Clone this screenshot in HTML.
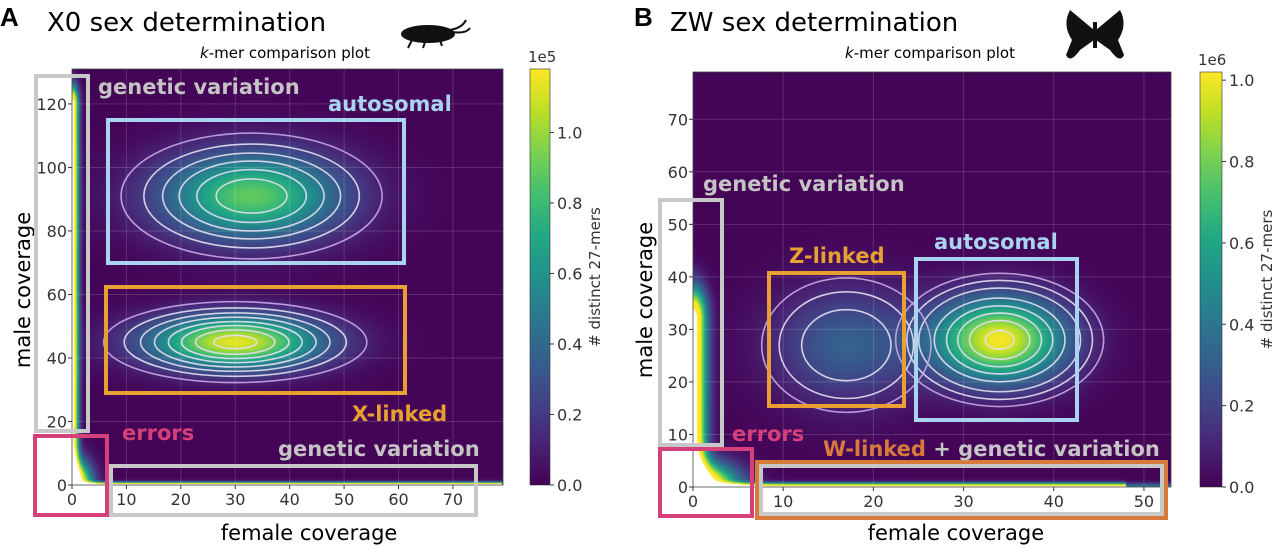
<!DOCTYPE html>
<html><head><meta charset="utf-8"><style>
html,body{margin:0;padding:0;background:#fff;width:1280px;height:548px;overflow:hidden;font-family:"Liberation Sans",sans-serif}
#root{position:relative;width:1280px;height:548px}
canvas{position:absolute}
svg{position:absolute;left:0;top:0}
</style></head><body>
<div id="root">
<canvas id="cA" style="left:72px;top:69px" width="431" height="416"></canvas>
<canvas id="cB" style="left:693px;top:72px" width="478" height="415"></canvas>
<svg id="s" width="1280" height="548">
<defs>
<linearGradient id="vir" x1="0" y1="1" x2="0" y2="0">
<stop offset="0" stop-color="#440154"/><stop offset="0.1" stop-color="#482475"/><stop offset="0.2" stop-color="#414487"/><stop offset="0.3" stop-color="#355f8d"/><stop offset="0.4" stop-color="#2a788e"/><stop offset="0.5" stop-color="#21918c"/><stop offset="0.6" stop-color="#22a884"/><stop offset="0.7" stop-color="#44bf70"/><stop offset="0.8" stop-color="#7ad151"/><stop offset="0.9" stop-color="#bddf26"/><stop offset="1" stop-color="#fde725"/>
</linearGradient>
</defs>
<g id="static">
<text x="0" y="26" font-size="26" font-weight="bold">A</text>
<text x="47" y="31" font-size="26" font-family="DejaVu Sans, sans-serif">X0 sex determination</text>
<text x="200" y="58" font-size="15" font-family="DejaVu Sans, sans-serif"><tspan font-style="italic">k</tspan>-mer comparison plot</text>
<g fill="#111">
<ellipse cx="428" cy="34" rx="27" ry="9"/><path d="M450 30 Q462 28 466 20" stroke="#111" stroke-width="2" fill="none"/><path d="M452 32 Q466 34 470 28" stroke="#111" stroke-width="2" fill="none"/><path d="M412 40 l-4 8 M425 42 l-2 6 M440 40 l2 6" stroke="#111" stroke-width="2"/>
</g>
<text x="634" y="26" font-size="26" font-weight="bold">B</text>
<text x="670" y="31" font-size="26" font-family="DejaVu Sans, sans-serif">ZW sex determination</text>
<text x="845" y="58" font-size="15" font-family="DejaVu Sans, sans-serif"><tspan font-style="italic">k</tspan>-mer comparison plot</text>
<g fill="#111">
<path d="M1094 30 L1070 10 Q1062 25 1072 40 L1066 55 Q1070 64 1080 50 L1094 40 Z"/>
<path d="M1096 30 L1120 10 Q1128 25 1118 40 L1124 55 Q1120 64 1110 50 L1096 40 Z"/>
<rect x="1093" y="22" width="4" height="26"/>
</g>
</g>
<g id="dyn"></g>
</svg>
</div>
<script>
// ---------- Panel A data (X0) ----------
const aBlobCx=[33,30];
const aBlobCy=[91,45];
const aBlobPeak=[0.88,1.12];
const aBlobSx=[11.5,11];
const aBlobSy=[9.5,5.8];
const aLevels=[0.1,0.2,0.32,0.45,0.6,0.75,0.9,1.05];
const aXTicks=[0,10,20,30,40,50,60,70];
const aYTicks=[0,20,40,60,80,100,120];
const aCbarTicks=[0.0,0.2,0.4,0.6,0.8,1.0];
// ---------- Panel B data (ZW) ----------
const bBlobCx=[34,17];
const bBlobCy=[28,27];
const bBlobPeak=[1.0,0.3];
const bBlobSx=[5,5.5];
const bBlobSy=[5.5,7.5];
const bLevels=[0.07,0.12,0.2,0.35,0.5,0.65,0.8,0.95];
const bXTicks=[0,10,20,30,40,50];
const bYTicks=[0,10,20,30,40,50,60,70];
const bCbarTicks=[0.0,0.2,0.4,0.6,0.8,1.0];

const VIR=[[68,1,84],[72,36,117],[65,68,135],[53,95,141],[42,120,142],[33,145,140],[34,168,132],[68,191,112],[122,209,81],[189,223,38],[253,231,37]];
function vir(t){t=Math.max(0,Math.min(1,t));const f=t*10,i=Math.min(9,Math.floor(f)),r=f-i;const a=VIR[i],b=VIR[i+1];return [a[0]+(b[0]-a[0])*r,a[1]+(b[1]-a[1])*r,a[2]+(b[2]-a[2])*r];}
const NS="http://www.w3.org/2000/svg";
const dyn=document.getElementById('dyn');
function el(tag,attrs,parent){const e=document.createElementNS(NS,tag);for(const k in attrs)e.setAttribute(k,attrs[k]);(parent||dyn).appendChild(e);return e;}

function panel(P){
  const sx=v=>P.left+(v-P.x0)/(P.x1-P.x0)*P.w;
  const sy=v=>P.top+P.h-(v-P.y0)/(P.y1-P.y0)*P.h;
  const c=document.getElementById(P.canvas),ctx=c.getContext('2d');
  const img=ctx.createImageData(P.w,P.h);
  for(let py=0;py<P.h;py++){const y=P.y1-(py+0.5)/P.h*(P.y1-P.y0);
    for(let px=0;px<P.w;px++){const x=P.x0+(px+0.5)/P.w*(P.x1-P.x0);
      let v=0.01*P.vmax;
      for(let i=0;i<P.cx.length;i++){const dx=(x-P.cx[i])/P.sxs[i],dy=(y-P.cy[i])/P.sys[i];v+=P.pk[i]*Math.exp(-0.5*(dx*dx+dy*dy));}
      v+=P.edgeL*Math.exp(-0.5*(x/P.edgeLw)**2)*(y<P.edgeLtop?1:Math.exp(-0.5*((y-P.edgeLtop)/4)**2));
      v+=P.edgeB*Math.exp(-0.5*(y/P.edgeBw)**2)*(x<P.edgeBright?1:0.3);
      v+=P.corner*Math.exp(-0.5*((x/P.cornerW)**2+(y/P.cornerH)**2));
      let col=vir(v/P.vmax);
      if(v>P.vmax*1.25){col=[255,255,255];}
      const k=(py*P.w+px)*4;img.data[k]=col[0];img.data[k+1]=col[1];img.data[k+2]=col[2];img.data[k+3]=255;}}
  ctx.putImageData(img,0,0);
  P.xt.forEach(t=>{const l=el('line',{x1:sx(t),x2:sx(t),y1:P.top,y2:P.top+P.h,stroke:'#fff','stroke-opacity':0.15,'stroke-width':1});
    
    });
  P.yt.forEach(t=>{const l=el('line',{x1:P.left,x2:P.left+P.w,y1:sy(t),y2:sy(t),stroke:'#fff','stroke-opacity':0.15,'stroke-width':1});
    
    });
  for(let i=0;i<P.cx.length;i++){P.levels.forEach((L,j)=>{if(L>=P.pk[i])return;const r=Math.sqrt(2*Math.log(P.pk[i]/L));
    const e=el('ellipse',{cx:sx(P.cx[i]),cy:sy(P.cy[i]),rx:r*P.sxs[i]*P.w/(P.x1-P.x0),ry:r*P.sys[i]*P.h/(P.y1-P.y0),fill:'none',stroke:j==0?'#c9a8e6':'#e4def0','stroke-width':1.6,'stroke-opacity':0.9});
    
    });}
  const fr=el('rect',{x:P.left,y:P.top,width:P.w,height:P.h,fill:'none',stroke:'#444','stroke-width':0.8});
  
  
  P.xt.forEach(t=>{const tl=el('line',{x1:sx(t),x2:sx(t),y1:P.top+P.h,y2:P.top+P.h+4,stroke:'#333'});
    
    
    const tx=el('text',{x:sx(t),y:P.top+P.h+20,'font-size':16,'text-anchor':'middle',fill:'#333','font-family':'DejaVu Sans, sans-serif'});tx.textContent=t;
    
    });
  P.yt.forEach(t=>{const tl=el('line',{x1:P.left-4,x2:P.left,y1:sy(t),y2:sy(t),stroke:'#333'});
    
    
    const tx=el('text',{x:P.left-5,y:sy(t)+6,'font-size':16,'text-anchor':'end',fill:'#333','font-family':'DejaVu Sans, sans-serif'});tx.textContent=t;
    
    });
  const cb=el('rect',{x:P.cbx,y:P.top,width:P.cbw,height:P.h,fill:'url(#vir)',stroke:'#333','stroke-width':0.6});
  
  
  const cy=v=>P.top+P.h-v/P.vmax*P.h;
  P.cbt.forEach(t=>{const tl=el('line',{x1:P.cbx+P.cbw,x2:P.cbx+P.cbw+4,y1:cy(t),y2:cy(t),stroke:'#333'});
    
    
    const tx=el('text',{x:P.cbx+P.cbw+7,y:cy(t)+6,'font-size':16,fill:'#333','font-family':'DejaVu Sans, sans-serif'});tx.textContent=t.toFixed(1);
    
    });
  const ex=el('text',{x:P.cbx-2,y:P.top-7,'font-size':15,fill:'#333','font-family':'DejaVu Sans, sans-serif'});ex.textContent=P.exp;
  
  
  const ct=el('text',{x:0,y:0,'font-size':15,fill:'#333','text-anchor':'middle',transform:`translate(${P.cbx+P.cbw+50},${P.top+P.h/2}) rotate(-90)`,'font-family':'DejaVu Sans, sans-serif'});ct.textContent='# distinct 27-mers';
  
  
  const xt=el('text',{x:P.left+P.w*0.55,y:540,'font-size':21,'text-anchor':'middle','font-family':'DejaVu Sans, sans-serif'});xt.textContent='female coverage';
  
  
  const yt=el('text',{x:0,y:0,'font-size':21,'text-anchor':'middle',transform:`translate(${P.ytx},${P.yty}) rotate(-90)`,'font-family':'DejaVu Sans, sans-serif'});yt.textContent='male coverage';
  
  
}
panel({canvas:'cA',left:72,top:69,w:431,h:416,x0:0,x1:79.2,y0:0,y1:131,cx:aBlobCx,cy:aBlobCy,pk:aBlobPeak,sxs:aBlobSx,sys:aBlobSy,levels:aLevels,xt:aXTicks,yt:aYTicks,cbt:aCbarTicks,vmax:1.18,edgeL:1.6,edgeLw:0.8,edgeLtop:120,edgeB:1.6,edgeBw:0.6,edgeBright:79,corner:2.0,cornerW:2.2,cornerH:5,cbx:530,cbw:20,exp:'1e5',ytx:30,yty:290});
panel({canvas:'cB',left:693,top:72,w:478,h:415,x0:0,x1:53,y0:0,y1:79,cx:bBlobCx,cy:bBlobCy,pk:bBlobPeak,sxs:bBlobSx,sys:bBlobSy,levels:bLevels,xt:bXTicks,yt:bYTicks,cbt:bCbarTicks,vmax:1.02,edgeL:1.4,edgeLw:1.0,edgeLtop:32,edgeB:1.4,edgeBw:0.5,edgeBright:48,corner:1.8,cornerW:3,cornerH:3,cbx:1200,cbw:22,exp:'1e6',ytx:652,yty:300});

const boxes=[
 ['gv-box-a',36,76,52,355,'#c8c8c8'],['autosomal-box-a',108,120,296,143,'#a8d4f0'],['x-linked-box-a',106,287,299,106,'#e8a030'],
 ['errors-box-a',35,436,72,79,'#d6407a'],['gv-bottom-box-a',111,466,365,49,'#c8c8c8'],
 ['gv-box-b',660,200,62,245,'#c8c8c8'],['errors-box-b',660,449,92,67,'#d6407a'],['w-linked-box-b',757,462,409,56,'#d87a3a'],['gv-inner-box-b',761,466,401,48,'#c8c8c8'],
 ['z-linked-box-b',769,273,135,133,'#e8a030'],['autosomal-box-b',916,259,161,161,'#a8d4f0']];
boxes.forEach(b=>{const r=el('rect',{x:b[1],y:b[2],width:b[3],height:b[4],fill:'none',stroke:b[5],'stroke-width':4});
  
  });
const labels=[
 ['gv-label-a',98,94,'#c4c4c4','genetic variation'],['autosomal-label-a',328,111,'#a8d4f0','autosomal'],['x-linked-label-a',352,421,'#e8a030','X-linked'],
 ['errors-label-a',122,440,'#d6407a','errors'],['gv-bottom-label-a',278,456,'#c4c4c4','genetic variation'],
 ['gv-label-b',703,191,'#c4c4c4','genetic variation'],['z-linked-label-b',789,263,'#e8a030','Z-linked'],['autosomal-label-b',934,249,'#a8d4f0','autosomal'],
 ['errors-label-b',732,441,'#d6407a','errors']];
labels.forEach(l=>{const t=el('text',{x:l[1],y:l[2],fill:l[3],'font-size':21,'font-weight':'bold','font-family':'DejaVu Sans, sans-serif'});t.textContent=l[4];
  
  });
const wl=el('text',{x:823,y:456,'font-size':21,'font-weight':'bold','font-family':'DejaVu Sans, sans-serif'});


wl.innerHTML='<tspan fill="#d87a3a">W-linked</tspan><tspan fill="#c4c4c4"> + genetic variation</tspan>';
</script>
</body></html>
